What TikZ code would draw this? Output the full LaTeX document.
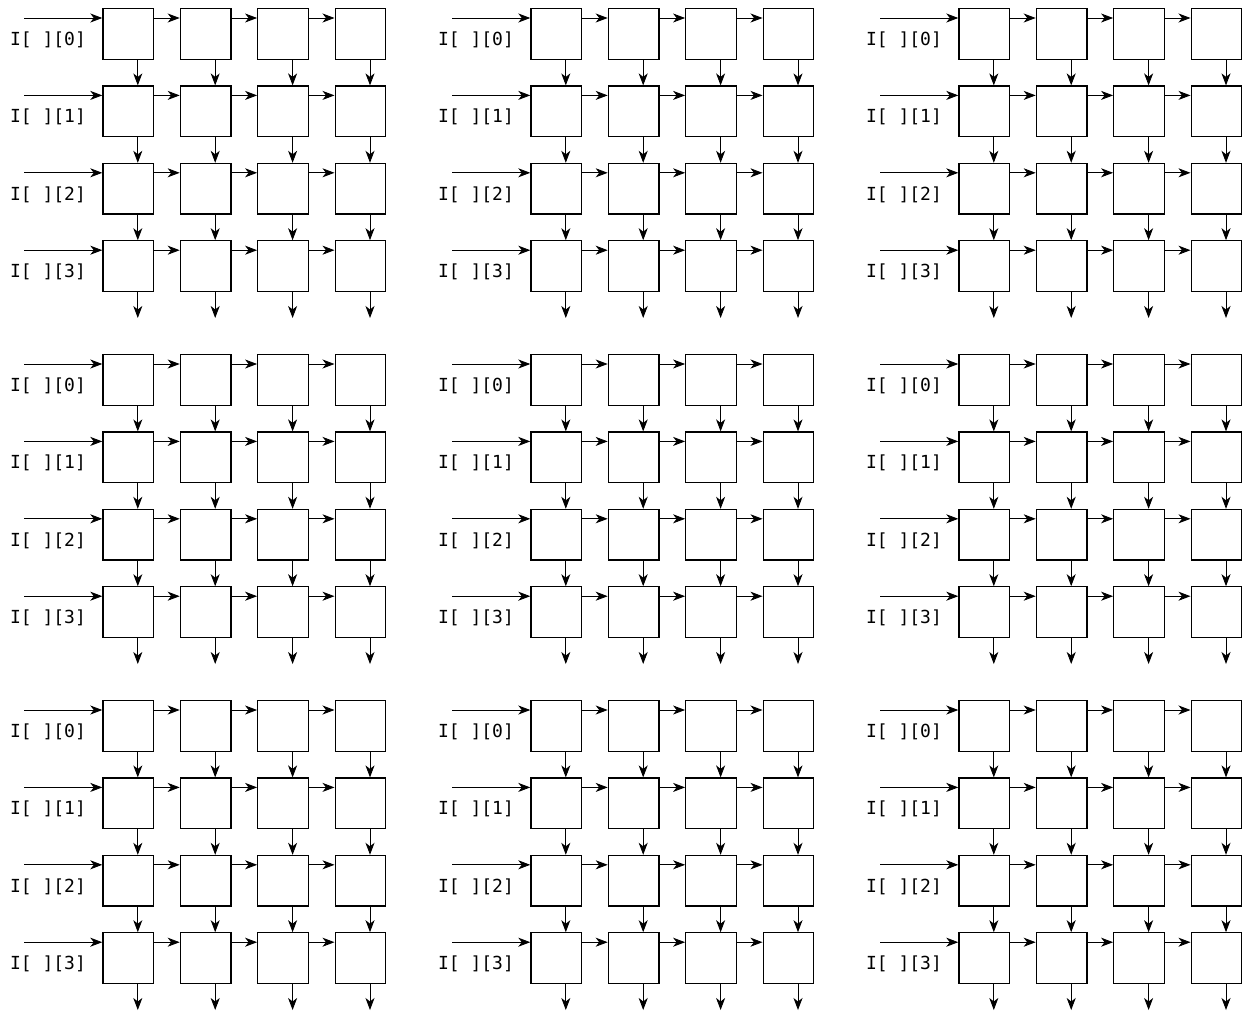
\documentclass[tikz,border=0pt]{standalone}
\usepackage{fontspec}
\newfontfamily\cellfont{DejaVu Sans Mono}
\usetikzlibrary{arrows.meta}

\begin{document}
\begin{tikzpicture}[x=1pt, y=-1pt,
  cell/.style={draw, line width=1.2pt, minimum size=50.6pt, inner sep=0pt, anchor=north west},
  flow/.style={-{Stealth[length=12pt, width=9pt, inset=3.5pt]}, line width=0.9pt},
  rowlabel/.style={anchor=base west, inner sep=0pt, font=\cellfont\fontsize{18}{20}\selectfont}]
\useasboundingbox (0,0) rectangle (1247,1012);
\foreach \pnlr in {0,1,2}{
 \foreach \pnlc in {0,1,2}{
  % cells of one 4x4 array
  \foreach \r in {0,...,3}{
   \foreach \c in {0,...,3}{
    \node[cell] (b\pnlr\pnlc-\r\c) at ({102.3+428*\pnlc+77.4*\c},{8+346*\pnlr+77.4*\r}) {};
   }
  }
  % row inputs and labels
  \foreach \r in {0,...,3}{
   \coordinate (in\pnlr\pnlc-\r) at ([xshift=-78pt, yshift=-10pt]b\pnlr\pnlc-\r0.north west);
   \draw[flow] (in\pnlr\pnlc-\r) -- ([yshift=-10pt]b\pnlr\pnlc-\r0.north west);
   \node[rowlabel] (lbl\pnlr\pnlc-\r) at ([xshift=-92.5pt, yshift=-37.5pt]b\pnlr\pnlc-\r0.north west) {I[ ][\r]};
   % horizontal links
   \foreach \c/\d in {0/1,1/2,2/3}
    \draw[flow] ([yshift=-10pt]b\pnlr\pnlc-\r\c.north east) -- ([yshift=-10pt]b\pnlr\pnlc-\r\d.north west);
  }
  % vertical links and outputs
  \foreach \c in {0,...,3}{
   \foreach \r/\s in {0/1,1/2,2/3}
    \draw[flow] ([xshift=35.5pt]b\pnlr\pnlc-\r\c.south west) -- ([xshift=35.5pt]b\pnlr\pnlc-\s\c.north west);
   \coordinate (out\pnlr\pnlc-\c) at ([xshift=35.5pt, yshift=-26pt]b\pnlr\pnlc-3\c.south west);
   \draw[flow] ([xshift=35.5pt]b\pnlr\pnlc-3\c.south west) -- (out\pnlr\pnlc-\c);
  }
 }
}
\end{tikzpicture}
\end{document}
